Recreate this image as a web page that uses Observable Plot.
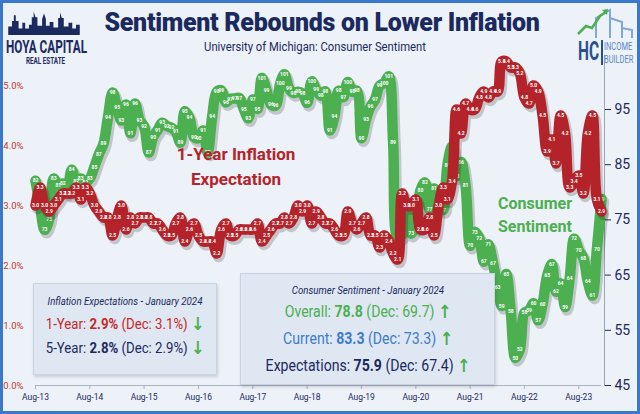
<!DOCTYPE html>
<html><head><meta charset="utf-8">
<script src="https://cdn.jsdelivr.net/npm/d3@7"></script>
<script src="https://cdn.jsdelivr.net/npm/@observablehq/plot@0.6"></script>
<style>
body{margin:0;background:#fff}
#wrap{position:relative;width:640px;height:414px;background:#edf1f8;overflow:hidden;font-family:Roboto,sans-serif;color:#1b2a5e}
#border{position:absolute;left:0;top:0;width:640px;height:414px;border:3px solid #3a78cc;box-sizing:border-box;z-index:20;pointer-events:none}
#chart{position:absolute;left:0;top:0;z-index:1}
.t{position:absolute;white-space:nowrap;line-height:1;z-index:5}
#title{left:322px;top:22px;font-weight:900;font-size:25px;color:#1b2a5e;letter-spacing:-0.3px;transform:translate(-50%,-50%)}
#sub{left:315px;top:47px;font-size:12.5px;color:#1b2a5e;transform:translate(-50%,-50%) scaleX(0.9)}
.ann{position:absolute;transform:translate(-50%,-50%);text-align:center;font-weight:bold;line-height:1.45;z-index:5;white-space:nowrap}
#annRed{left:236px;top:167px;font-size:17px;color:#b5232a}
#annGreen{left:535px;top:215px;font-size:16px;color:#4caf50}
.box{position:absolute;background:#dfe7f2;border:1px solid #c8d4e6;box-shadow:1px 2px 3px rgba(0,0,0,0.15);z-index:6}
#box1{left:33px;top:283px;width:182px;height:90px}
#box2{left:240px;top:273px;width:253px;height:110px}
.box .l{position:absolute;left:50%;transform:translate(-50%,-50%) scaleX(0.88);white-space:nowrap;line-height:1}
.it{font-style:italic;font-size:11px;color:#1b2a5e}
.b1{font-size:15px}
.b2{font-size:16px}
.up,.dn{color:#4caf50;font-weight:bold;font-size:18px;font-family:"DejaVu Sans",sans-serif;vertical-align:-1px}
#logoL{position:absolute;left:6px;top:4px;width:80px;height:62px;z-index:5}
#logoR{position:absolute;left:574px;top:4px;width:64px;height:64px;z-index:5}
.sq{position:absolute;white-space:nowrap;line-height:1;transform-origin:0 0}
</style></head>
<body>
<div id="wrap">
  <div id="chart"></div>
  <div id="logoL">
    <svg width="76" height="32" viewBox="0 0 80 34">
      <path d="M2 33 L2 24 L6 24 L6 18 L8 18 L8 12 L10 12 L10 18 L13 18 L13 26 L17 26 L17 20 L20 20 L20 26 L24 26 L24 22 L27 22 L27 14 L29 14 L29 8 L31 14 L33 14 L33 23 L38 23 L38 16 L40 10 L42 16 L42 23 L46 23 L46 19 L50 19 L50 25 L55 25 L55 15 L57 15 L57 9 L59 15 L61 15 L61 24 L66 24 L66 20 L70 20 L70 26 L74 26 L74 22 L78 22 L78 33 Z" fill="#1b2a5e"/>
    </svg>
    <div class="sq" style="left:0;top:33px;font-weight:bold;font-size:19px;color:#1b2a5e;transform:scaleX(0.62)">HOYA CAPITAL</div>
    <div class="sq" style="left:20px;top:53px;font-weight:bold;font-size:9px;color:#1b2a5e;transform:scaleX(0.7)">REAL ESTATE</div>
  </div>
  <div id="logoR">
    <svg width="64" height="36" viewBox="0 0 64 36">
      <path d="M22 34 L22 14 L36 6 L36 34 M36 14 L48 18 L48 34 M48 24 L58 26 L58 34" fill="none" stroke="#7fa7d8" stroke-width="2"/>
      <path d="M4 30 L12 22 L18 24 L26 12 L32 8" fill="none" stroke="#4caf50" stroke-width="2.5"/>
      <path d="M28 6 L34 5 L33 11 Z" fill="#4caf50"/>
    </svg>
    <div class="sq" style="left:4px;top:35px;font-weight:bold;font-size:25px;color:#2a4f8f;transform:scaleX(0.62)">HC</div>
    <div style="position:absolute;left:27px;top:36px;width:1.5px;height:25px;background:#2a4f8f"></div>
    <div class="sq" style="left:30px;top:37px;font-size:11px;color:#5b87c7;line-height:1.15;transform:scaleX(0.68)">INCOME<br>BUILDER</div>
  </div>
  <div id="title" class="t">Sentiment Rebounds on Lower Inflation</div>
  <div id="sub" class="t">University of Michigan: Consumer Sentiment</div>
  <div id="annRed" class="ann">1-Year Inflation<br>Expectation</div>
  <div id="annGreen" class="ann">Consumer<br>Sentiment</div>
  <div id="box1" class="box">
    <div class="l it" style="top:17px">Inflation Expectations - January 2024</div>
    <div class="l b1" style="top:40px;color:#c62828">1-Year: <b>2.9%</b> (Dec: 3.1%) <span class="dn">↓</span></div>
    <div class="l b1" style="top:64px;color:#1b2a5e">5-Year: <b>2.8%</b> (Dec: 2.9%) <span class="dn">↓</span></div>
  </div>
  <div id="box2" class="box">
    <div class="l it" style="top:16px">Consumer Sentiment - January 2024</div>
    <div class="l b2" style="top:38px;color:#4caf50">Overall: <b>78.8</b> (Dec: 69.7) <span class="up">↑</span></div>
    <div class="l b2" style="top:65px;color:#3d7cc9">Current: <b>83.3</b> (Dec: 73.3) <span class="up">↑</span></div>
    <div class="l b2" style="top:92px;color:#1b2a5e">Expectations: <b>75.9</b> (Dec: 67.4) <span class="up">↑</span></div>
  </div>
  <div id="border"></div>
</div>
<script>
// Monthly, Aug 2013 .. Jan 2024
const sentiment = [
  82.1, 77.5, 73.2, 75.1, 82.5,
  81.2, 81.6, 80.0, 84.1, 81.9, 82.5, 81.8, 82.5, 84.6, 86.9, 88.8, 93.6,
  98.1, 95.4, 93.0, 95.9, 90.7, 96.1, 93.1, 91.9, 87.2, 90.0, 91.3, 92.6,
  92.0, 91.7, 91.0, 89.0, 94.7, 93.5, 90.0, 89.8, 91.2, 87.2, 93.8, 98.2,
  98.5, 96.3, 96.9, 97.0, 97.1, 95.1, 93.4, 96.8, 95.1, 100.7, 98.5, 95.9,
  95.7, 99.7, 101.4, 98.8, 98.0, 98.2, 97.9, 96.2, 100.1, 98.6, 97.5, 98.3,
  91.2, 93.8, 98.4, 97.2, 100.0, 98.2, 98.4, 89.8, 93.2, 95.5, 96.8, 99.3,
  99.8, 101.0, 89.1, 71.8, 72.3, 78.1, 72.5, 74.1, 80.4, 81.8, 76.9, 80.7,
  79.0, 76.8, 84.9, 88.3, 82.9, 85.5, 81.2, 70.3, 72.8, 71.7, 67.4, 70.6,
  67.2, 62.8, 59.4, 65.2, 58.4, 50.0, 51.5, 58.2, 58.6, 59.9, 56.8, 59.7,
  64.9, 67.0, 62.0, 63.5, 59.2, 64.4, 71.6, 69.5, 68.1, 63.8, 61.3, 69.7,
  78.8
];
const inflation1y = [
  3.0, 3.3, 3.0, 2.9, 3.0,
  3.1, 3.2, 3.2, 3.2, 3.3, 3.1, 3.3, 3.2, 3.0, 2.9, 2.8, 2.8,
  2.5, 2.8, 3.0, 2.6, 2.8, 2.7, 2.8, 2.8, 2.8, 2.7, 2.7, 2.6,
  2.5, 2.5, 2.7, 2.8, 2.4, 2.6, 2.7, 2.5, 2.4, 2.4, 2.4, 2.2,
  2.6, 2.7, 2.5, 2.5, 2.6, 2.6, 2.6, 2.6, 2.7, 2.4, 2.5, 2.6,
  2.7, 2.7, 2.8, 2.7, 2.8, 3.0, 2.9, 3.0, 2.7, 2.9, 2.8, 2.7,
  2.7, 2.6, 2.5, 2.5, 2.9, 2.7, 2.6, 2.7, 2.8, 2.5, 2.5, 2.3,
  2.5, 2.4, 2.2, 2.1, 3.2, 3.0, 3.0, 3.1, 2.6, 2.6, 2.8, 2.5,
  3.0, 3.3, 3.1, 3.4, 4.6, 4.2, 4.7, 4.6, 4.6, 4.8, 4.9, 4.8,
  4.9, 4.9, 5.4, 5.4, 5.3, 5.3, 5.2, 4.8, 4.7, 5.0, 4.9, 4.5,
  3.9, 4.1, 3.7, 4.5, 4.2, 3.3, 3.4, 3.5, 3.2, 4.2, 4.5, 3.1,
  2.9
];
const xTickLabels = ["Aug-13","Aug-14","Aug-15","Aug-16","Aug-17","Aug-18","Aug-19","Aug-20","Aug-21","Aug-22","Aug-23"];
const leftTicks = [0, 1, 2, 3, 4, 5];
const rightTicks = [45, 55, 65, 75, 85, 95];

const parse = d3.utcParse("%b-%y");
const months = d3.utcMonth.range(new Date(Date.UTC(2013, 7, 1)), new Date(Date.UTC(2024, 1, 1)));
// right axis (sentiment) drawn in the left axis (percent) coordinate system
const S0 = 45, K = 0.092;
const toLeft = s => (s - S0) * K;
const fromLeft = v => Math.round(v / K + S0);

const sData = months.map((date, i) => ({date, v: sentiment[i], y: toLeft(sentiment[i])}));
const iData = months.map((date, i) => ({date, v: inflation1y[i], y: inflation1y[i]}));
const xTicks = xTickLabels.map(parse);

const lineOpts = {x: "date", y: "y", strokeWidth: 10.5, curve: "catmull-rom", strokeLinejoin: "round", strokeLinecap: "round"};
const shadowOpts = {...lineOpts, stroke: "#000", strokeOpacity: 0.18, strokeWidth: 11.5, dx: 2, dy: 3};

const chart = Plot.plot({
  width: 640, height: 414,
  marginLeft: 35, marginRight: 39, marginTop: 55, marginBottom: 29,
  style: {background: "transparent", overflow: "visible", fontFamily: "Roboto, sans-serif"},
  x: {type: "utc", domain: [months[0], months[months.length - 1]], axis: null},
  y: {domain: [0, 5.5], axis: null},
  marks: [
    Plot.ruleY([0], {stroke: "#aab3c0", strokeWidth: 1.2}),
    Plot.axisX({ticks: xTicks, tickFormat: d3.utcFormat("%b-%y"), tickSize: 4, tickPadding: 4, stroke: "#aab3c0", fill: "#1b2a5e", fontSize: 8.5, label: null}),
    Plot.axisY({anchor: "left", ticks: leftTicks, tickFormat: d => d.toFixed(1) + "%", tickSize: 0, tickPadding: 12, fill: "#c0392b", fontSize: 9.5, label: null}),
    Plot.axisY({anchor: "right", ticks: rightTicks.map(toLeft), tickFormat: fromLeft, tickSize: 6, tickPadding: 4, dx: 3, stroke: "#1b2a5e", fill: "#1b2a5e", fontSize: 14, label: null}),
    Plot.frame({anchor: "right", dx: 3, stroke: "#9aa6b8"}),
    Plot.line(sData, shadowOpts),
    Plot.line(sData, {...lineOpts, stroke: "#4caf50"}),
    Plot.text(sData, {x: "date", y: "y", text: d => d3.format(".0f")(d.v), fill: "white", fontSize: 5, fontWeight: "bold"}),
    Plot.line(iData, shadowOpts),
    Plot.line(iData, {...lineOpts, stroke: "#b5232a"}),
    Plot.text(iData, {x: "date", y: "y", text: d => d.v.toFixed(1), fill: "white", fontSize: 5, fontWeight: "bold"})
  ]
});
document.getElementById("chart").appendChild(chart);
</script>
</body></html>
